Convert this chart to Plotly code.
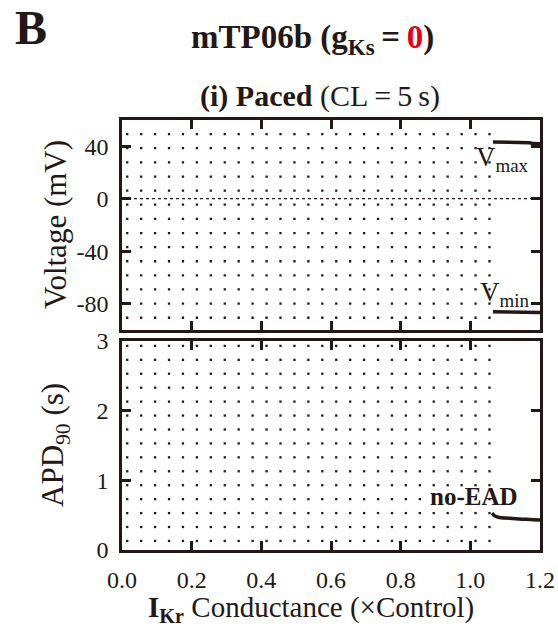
import plotly.graph_objects as go

# ---- data ----
dot_x = [0.015, 0.055, 0.095, 0.135, 0.175, 0.215, 0.255, 0.295, 0.335, 0.375,
         0.415, 0.455, 0.495, 0.535, 0.575, 0.615, 0.655, 0.695, 0.735, 0.775,
         0.815, 0.855, 0.895, 0.935, 0.975, 1.015, 1.055]
dot_v = [49.2, 38.5, 27.7, 16.9, 6.2, -4.6, -15.4, -26.2, -36.9, -47.7,
         -58.5, -69.2, -80.0, -90.8]
dot_apd = [2.93, 2.73, 2.53, 2.33, 2.13, 1.93, 1.73, 1.53, 1.33, 1.13,
           0.93, 0.73, 0.53, 0.33, 0.13]

v_x = [1.065, 1.08, 1.10, 1.12, 1.14, 1.16, 1.17, 1.18, 1.19, 1.20]
vmax = [43.2, 43.1, 43.0, 42.9, 42.9, 42.8, 42.7, 42.0, 41.8, 41.8]
vmin = [-86.3, -86.3, -86.4, -86.4, -86.4, -86.4, -86.5, -86.6, -86.8, -86.8]

apd_x = [1.062, 1.07, 1.08, 1.09, 1.10, 1.12, 1.14, 1.16, 1.18, 1.20]
apd90 = [0.53, 0.49, 0.47, 0.462, 0.458, 0.452, 0.446, 0.44, 0.435, 0.43]

x_ticks = [0.0, 0.2, 0.4, 0.6, 0.8, 1.0, 1.2]
v_ticks = [-80, -40, 0, 40]
apd_ticks = [0, 1, 2, 3]

INK = "#231815"
FONT = "Liberation Serif"

fig = go.Figure()

# dotted background grid
gx_top, gy_top = [], []
for v in dot_v:
    for x in dot_x:
        gx_top.append(x); gy_top.append(v)
gx_bot, gy_bot = [], []
for a in dot_apd:
    for x in dot_x:
        gx_bot.append(x); gy_bot.append(a)

fig.add_trace(go.Scatter(x=gx_top, y=gy_top, mode="markers", xaxis="x", yaxis="y",
                         marker=dict(symbol="square", size=2.3, color=INK, line=dict(width=0)),
                         hoverinfo="skip", showlegend=False))
fig.add_trace(go.Scatter(x=gx_bot, y=gy_bot, mode="markers", xaxis="x2", yaxis="y2",
                         marker=dict(symbol="square", size=2.3, color=INK, line=dict(width=0)),
                         hoverinfo="skip", showlegend=False))

# zero line
fig.add_trace(go.Scatter(x=[x_ticks[0], x_ticks[-1]], y=[0, 0], mode="lines", xaxis="x", yaxis="y",
                         line=dict(color=INK, width=1.2, dash="dot"), showlegend=False, hoverinfo="skip"))

# Vmax / Vmin
fig.add_trace(go.Scatter(x=v_x, y=vmax, mode="lines", xaxis="x", yaxis="y",
                         line=dict(color=INK, width=3.5), showlegend=False))
fig.add_trace(go.Scatter(x=v_x, y=vmin, mode="lines", xaxis="x", yaxis="y",
                         line=dict(color=INK, width=3.5), showlegend=False))
# APD90
fig.add_trace(go.Scatter(x=apd_x, y=apd90, mode="lines", xaxis="x2", yaxis="y2",
                         line=dict(color=INK, width=3.5, shape="spline"), showlegend=False))

axis_common = dict(showline=True, mirror="allticks", linecolor=INK, linewidth=2.5,
                   ticks="inside", ticklen=9, tickwidth=2.5, tickcolor=INK,
                   showgrid=False, zeroline=False, automargin=False,
                   tickfont=dict(family=FONT, size=24, color=INK))

fig.update_layout(
    template="none",
    width=558, height=634,
    margin=dict(l=122, r=18, t=120, b=84),
    paper_bgcolor="white", plot_bgcolor="white",
    font=dict(family=FONT, color=INK),
    showlegend=False,
    xaxis=dict(domain=[0, 1], range=[0, 1.2], tickvals=x_ticks, showticklabels=False,
               anchor="y", **axis_common),
    yaxis=dict(domain=[0.512, 1.0], range=[-100, 60], tickvals=v_ticks,
               ticktext=[str(t) for t in v_ticks],
               ticklabelstandoff=6, anchor="x", **axis_common),
    xaxis2=dict(domain=[0, 1], range=[0, 1.2], tickvals=x_ticks,
                ticktext=["%.1f" % t for t in x_ticks], anchor="y2",
                ticklabelstandoff=6, **axis_common),
    yaxis2=dict(domain=[0, 0.486], range=[0, 3], tickvals=apd_ticks,
                ticktext=[str(t) for t in apd_ticks],
                ticklabelstandoff=6, anchor="x2", **axis_common),
)


def px(xp, yp):
    # convert pixel position to paper coordinates
    return (xp - 122) / (558 - 122 - 18), (634 - 84 - yp) / (634 - 120 - 84)


annotations = []
bx, by = px(13, -1)
annotations.append(dict(text="<b>B</b>", x=bx, y=by, xref="paper", yref="paper", showarrow=False,
                        font=dict(size=48, family=FONT, color=INK), xanchor="left", yanchor="top"))
tx, ty = px(312, 40)
annotations.append(dict(text="<b>mTP06b (g<sub>Ks</sub>\u2009=\u2009<span style='color:#e60012'>0</span>)</b>",
                        x=tx, y=ty, xref="paper", yref="paper", showarrow=False,
                        font=dict(size=33, family=FONT, color=INK), xanchor="center", yanchor="middle"))
sx, sy = px(320, 96)
annotations.append(dict(text="<b>(i) Paced</b> (CL\u2009=\u20095\u2009s)",
                        x=sx, y=sy, xref="paper", yref="paper", showarrow=False,
                        font=dict(size=30, family=FONT, color=INK), xanchor="center", yanchor="middle"))
vx, vy = px(55, 225)
annotations.append(dict(text="Voltage (mV)", x=vx, y=vy, xref="paper", yref="paper", showarrow=False,
                        textangle=-90, font=dict(size=31, family=FONT, color=INK),
                        xanchor="center", yanchor="middle"))
ax_, ay_ = px(55, 445)
annotations.append(dict(text="APD<sub>90</sub> (s)", x=ax_, y=ay_, xref="paper", yref="paper",
                        showarrow=False, textangle=-90, font=dict(size=31, family=FONT, color=INK),
                        xanchor="center", yanchor="middle"))
xx, xy = px(311, 609)
annotations.append(dict(text="<b>I<sub>Kr</sub></b> Conductance (×Control)", x=xx, y=xy,
                        xref="paper", yref="paper", showarrow=False,
                        font=dict(size=29, family=FONT, color=INK), xanchor="center", yanchor="middle"))
# curve labels
annotations.append(dict(text="V<sub>max</sub>", x=1.175, y=30, xref="x", yref="y", showarrow=False,
                        font=dict(size=27, family=FONT, color=INK), xanchor="right", yanchor="middle"))
annotations.append(dict(text="V<sub>min</sub>", x=1.175, y=-73, xref="x", yref="y", showarrow=False,
                        font=dict(size=27, family=FONT, color=INK), xanchor="right", yanchor="middle"))
annotations.append(dict(text="<b>no-EAD</b>", x=1.01, y=0.77, xref="x2", yref="y2", showarrow=False,
                        font=dict(size=25, family=FONT, color=INK), xanchor="center", yanchor="middle"))

fig.update_layout(annotations=annotations)
fig.write_html("out.html")
